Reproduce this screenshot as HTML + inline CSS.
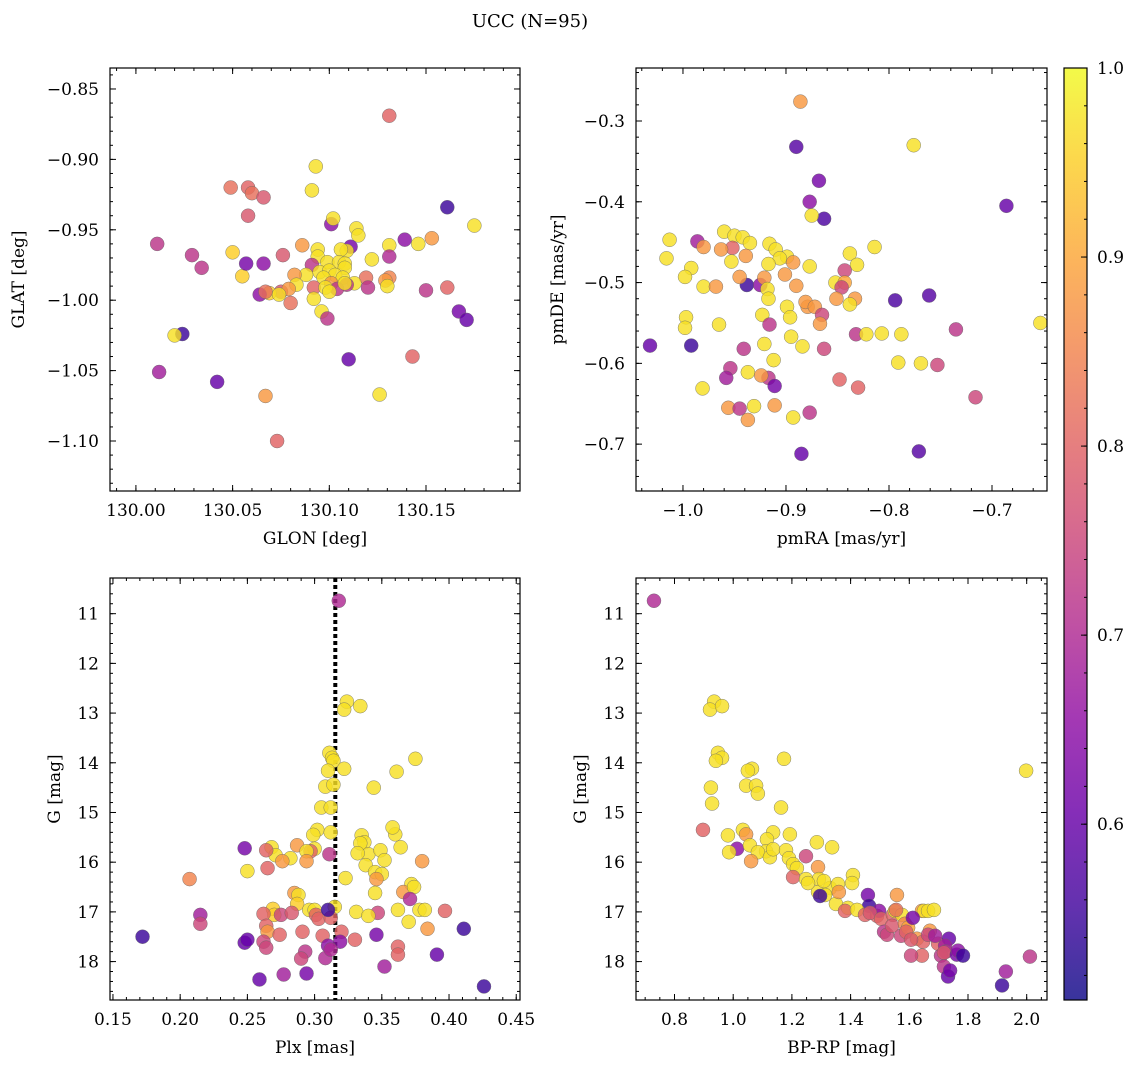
<!DOCTYPE html>
<html><head><meta charset="utf-8">
<style>
html,body{margin:0;padding:0;background:#fff;}
svg{display:block;font-family:"DejaVu Serif","Liberation Serif",serif;}
</style></head>
<body>
<svg id="fig" width="1136" height="1067" viewBox="0 0 1136 1067" xmlns="http://www.w3.org/2000/svg">
<text x="530" y="27" font-size="18" text-anchor="middle">UCC (N=95)</text>
</svg>
<script>
// ---------- DATA ----------
const glonVals=[130.131,130.058,130.049,130.060,130.066,130.093,130.091,130.161,130.011,130.050,130.055,130.058,130.101,130.102,130.114,130.115,130.175,130.153,130.146,130.139,130.086,130.094,130.111,130.109,130.106,130.131,130.122,130.066,130.076,130.094,130.099,130.105,130.057,130.029,130.034,130.108,130.108,130.091,130.095,130.131,130.088,130.100,130.103,130.107,130.097,130.082,130.131,130.129,130.119,130.101,130.113,130.130,130.109,130.104,130.092,130.098,130.100,130.083,130.075,130.079,130.120,130.161,130.150,130.069,130.074,130.064,130.092,130.067,130.080,130.096,130.099,130.167,130.171,130.024,130.020,130.110,130.126,130.143,130.012,130.042,130.067,130.073,130.108];
const glatVals=[-0.869,-0.920,-0.920,-0.924,-0.927,-0.905,-0.922,-0.934,-0.960,-0.966,-0.983,-0.940,-0.946,-0.942,-0.949,-0.954,-0.947,-0.956,-0.960,-0.957,-0.961,-0.964,-0.962,-0.965,-0.964,-0.961,-0.971,-0.974,-0.968,-0.969,-0.973,-0.973,-0.974,-0.968,-0.977,-0.974,-0.977,-0.975,-0.980,-0.969,-0.982,-0.979,-0.982,-0.984,-0.984,-0.982,-0.984,-0.986,-0.984,-0.988,-0.988,-0.990,-0.989,-0.992,-0.991,-0.991,-0.994,-0.989,-0.994,-0.992,-0.991,-0.991,-0.993,-0.995,-0.996,-0.996,-0.999,-0.994,-1.002,-1.008,-1.013,-1.008,-1.014,-1.024,-1.025,-1.042,-1.067,-1.040,-1.051,-1.058,-1.068,-1.100,-0.988];
const probP1=[0.8,0.8,0.82,0.82,0.78,0.97,0.97,0.55,0.72,0.95,0.95,0.78,0.65,0.97,0.97,0.97,0.97,0.88,0.97,0.65,0.88,0.97,0.62,0.97,0.97,0.97,0.97,0.65,0.78,0.97,0.97,0.97,0.62,0.72,0.72,0.97,0.97,0.72,0.97,0.7,0.97,0.97,0.97,0.97,0.97,0.88,0.85,0.88,0.82,0.88,0.97,0.97,0.72,0.72,0.8,0.97,0.97,0.97,0.78,0.88,0.72,0.8,0.72,0.95,0.97,0.65,0.97,0.82,0.82,0.97,0.72,0.62,0.6,0.55,0.97,0.6,0.97,0.8,0.68,0.6,0.88,0.8,0.97];

const pmraVals=[-0.886,-0.890,-0.776,-0.868,-0.877,-0.863,-0.875,-0.686,-1.013,-1.016,-0.986,-0.992,-0.960,-0.950,-0.952,-0.963,-0.942,-0.980,-0.935,-0.916,-0.910,-0.899,-0.814,-0.838,-0.877,-0.906,-0.893,-0.917,-0.953,-0.939,-0.831,-0.843,-0.794,-0.761,-0.938,-0.998,-0.980,-0.968,-0.925,-0.921,-0.945,-0.918,-0.901,-0.890,-0.852,-0.843,-0.846,-0.833,-0.838,-0.851,-0.879,-0.899,-0.881,-0.872,-0.865,-0.867,-0.917,-0.896,-0.997,-0.998,-0.965,-0.923,-0.916,-0.992,-1.032,-0.941,-0.921,-0.895,-0.884,-0.832,-0.822,-0.788,-0.807,-0.863,-0.917,-0.791,-0.735,-0.753,-0.769,-0.954,-0.937,-0.924,-0.958,-0.911,-0.981,-0.848,-0.830,-0.912,-0.956,-0.931,-0.945,-0.911,-0.937,-0.877,-0.893,-0.716,-0.771,-0.885,-0.653];
const pmdeVals=[-0.276,-0.332,-0.330,-0.374,-0.400,-0.421,-0.417,-0.405,-0.447,-0.470,-0.449,-0.482,-0.437,-0.442,-0.457,-0.459,-0.444,-0.456,-0.451,-0.452,-0.459,-0.468,-0.456,-0.464,-0.480,-0.470,-0.475,-0.477,-0.474,-0.467,-0.478,-0.485,-0.522,-0.516,-0.503,-0.493,-0.505,-0.505,-0.503,-0.494,-0.493,-0.508,-0.490,-0.504,-0.500,-0.500,-0.506,-0.520,-0.527,-0.520,-0.530,-0.530,-0.524,-0.530,-0.540,-0.551,-0.520,-0.543,-0.543,-0.556,-0.552,-0.540,-0.552,-0.578,-0.578,-0.582,-0.576,-0.567,-0.579,-0.564,-0.564,-0.564,-0.563,-0.582,-0.618,-0.599,-0.558,-0.602,-0.600,-0.606,-0.611,-0.615,-0.618,-0.628,-0.631,-0.620,-0.630,-0.596,-0.655,-0.653,-0.656,-0.652,-0.670,-0.661,-0.667,-0.642,-0.709,-0.712,-0.550];
const probP2=[0.88,0.58,0.97,0.62,0.65,0.57,0.97,0.6,0.97,0.97,0.68,0.97,0.97,0.97,0.8,0.88,0.97,0.88,0.97,0.97,0.97,0.97,0.97,0.97,0.97,0.97,0.88,0.97,0.97,0.88,0.97,0.75,0.57,0.58,0.55,0.97,0.97,0.88,0.65,0.88,0.88,0.97,0.88,0.88,0.97,0.9,0.75,0.88,0.97,0.88,0.88,0.97,0.88,0.88,0.75,0.88,0.97,0.97,0.97,0.97,0.97,0.97,0.72,0.55,0.6,0.72,0.97,0.97,0.97,0.72,0.97,0.97,0.97,0.75,0.72,0.97,0.72,0.75,0.97,0.72,0.97,0.88,0.68,0.62,0.97,0.8,0.8,0.97,0.88,0.97,0.72,0.88,0.88,0.72,0.97,0.75,0.58,0.6,0.97];

const plxVals=[0.318,0.324,0.322,0.334,0.311,0.313,0.314,0.322,0.310,0.308,0.314,0.375,0.361,0.344,0.305,0.312,0.302,0.299,0.300,0.312,0.335,0.337,0.340,0.360,0.358,0.334,0.364,0.297,0.287,0.294,0.268,0.271,0.248,0.264,0.282,0.311,0.332,0.338,0.349,0.352,0.380,0.345,0.350,0.323,0.346,0.250,0.265,0.276,0.294,0.207,0.372,0.345,0.366,0.374,0.285,0.288,0.371,0.287,0.315,0.378,0.269,0.270,0.296,0.300,0.362,0.382,0.397,0.301,0.275,0.262,0.283,0.303,0.312,0.310,0.331,0.347,0.340,0.370,0.215,0.215,0.384,0.264,0.265,0.320,0.291,0.274,0.306,0.262,0.319,0.310,0.346,0.411,0.248,0.264,0.330,0.293,0.362,0.290,0.172,0.250,0.308,0.312,0.391,0.362,0.352,0.294,0.277,0.259,0.426];
const gP3=[10.74,12.77,12.93,12.86,13.80,13.90,13.96,14.12,14.16,14.48,14.44,13.92,14.18,14.50,14.90,14.90,15.35,15.45,15.73,15.40,15.46,15.60,15.84,15.44,15.30,15.62,15.70,15.78,15.66,15.78,15.70,15.86,15.72,15.76,15.92,15.84,15.82,16.06,15.76,15.96,15.98,16.20,16.24,16.32,16.34,16.18,16.12,15.98,15.98,16.34,16.44,16.62,16.60,16.50,16.62,16.66,16.74,16.84,16.90,16.96,16.94,17.06,16.96,16.96,16.96,16.96,16.98,17.06,17.06,17.04,17.02,17.14,17.12,16.96,17.00,17.02,17.08,17.20,17.06,17.24,17.34,17.28,17.40,17.40,17.40,17.46,17.48,17.60,17.60,17.68,17.46,17.34,17.62,17.72,17.56,17.80,17.70,17.94,17.50,17.56,17.93,17.76,17.86,17.86,18.10,18.24,18.26,18.36,18.50];
const probP3=[0.7,0.97,0.97,0.97,0.97,0.97,0.97,0.97,0.97,0.97,0.97,0.97,0.97,0.97,0.97,0.97,0.97,0.97,0.97,0.97,0.97,0.97,0.97,0.97,0.97,0.97,0.97,0.8,0.88,0.97,0.97,0.97,0.62,0.8,0.97,0.72,0.97,0.97,0.97,0.97,0.88,0.97,0.97,0.97,0.88,0.97,0.8,0.88,0.88,0.85,0.97,0.97,0.88,0.97,0.88,0.97,0.7,0.95,0.97,0.97,0.95,0.95,0.97,0.97,0.97,0.97,0.8,0.8,0.75,0.8,0.78,0.8,0.8,0.55,0.97,0.75,0.97,0.97,0.68,0.75,0.88,0.8,0.88,0.8,0.8,0.8,0.8,0.75,0.65,0.65,0.62,0.55,0.6,0.75,0.8,0.72,0.8,0.75,0.55,0.6,0.7,0.7,0.6,0.8,0.68,0.62,0.68,0.6,0.55];

const bprpVals=[0.730,0.935,0.921,0.962,0.948,0.962,0.941,1.064,1.050,1.044,1.078,1.084,1.173,0.924,0.928,1.163,1.033,0.897,1.013,1.044,0.982,1.057,1.136,1.115,1.112,1.084,0.986,1.125,1.193,1.136,1.061,1.285,1.337,1.180,1.190,1.204,1.217,1.204,1.289,1.292,1.289,1.330,1.309,1.408,1.357,1.248,1.248,1.255,1.313,1.405,1.350,1.360,1.296,1.459,1.463,1.391,1.381,1.422,1.449,1.490,1.497,1.466,1.504,1.544,1.551,1.558,1.514,1.524,1.572,1.541,1.575,1.585,1.596,1.589,1.643,1.650,1.664,1.684,1.626,1.670,1.698,1.647,1.606,1.664,1.688,1.735,1.722,1.725,1.643,1.606,1.708,1.718,1.762,1.766,1.718,1.732,1.739,1.783,1.929,1.916,2.011,1.998,1.612,1.555];
const gP4=[10.74,12.77,12.93,12.86,13.80,13.90,13.96,14.12,14.16,14.46,14.46,14.62,13.92,14.50,14.82,14.90,15.35,15.35,15.73,15.44,15.46,15.66,15.40,15.54,15.78,15.80,15.80,15.90,15.44,15.74,15.98,15.60,15.70,15.76,15.92,16.04,16.12,16.30,16.10,16.34,16.60,16.52,16.38,16.26,16.44,15.88,16.34,16.42,16.66,16.42,16.84,16.60,16.68,16.66,16.88,16.92,16.98,16.96,17.06,17.08,16.98,17.02,17.14,17.06,16.98,16.66,17.40,17.46,17.48,17.28,17.06,17.24,17.32,17.40,16.98,16.98,16.98,16.96,17.54,17.38,17.64,17.60,17.56,17.46,17.48,17.54,17.68,17.80,17.88,17.88,17.88,17.82,17.86,17.78,18.10,18.30,18.18,17.88,18.20,18.48,17.90,14.16,17.12,16.96];
const probP4=[0.7,0.97,0.97,0.97,0.97,0.97,0.97,0.97,0.97,0.97,0.97,0.97,0.97,0.97,0.97,0.97,0.97,0.8,0.65,0.88,0.97,0.97,0.97,0.97,0.97,0.97,0.97,0.97,0.97,0.97,0.88,0.97,0.97,0.97,0.97,0.97,0.97,0.8,0.88,0.97,0.97,0.97,0.97,0.97,0.97,0.75,0.97,0.97,0.97,0.97,0.97,0.88,0.55,0.62,0.55,0.97,0.8,0.97,0.8,0.8,0.65,0.78,0.8,0.8,0.97,0.88,0.72,0.75,0.75,0.78,0.97,0.85,0.9,0.8,0.88,0.97,0.97,0.97,0.88,0.88,0.8,0.8,0.78,0.75,0.68,0.6,0.68,0.7,0.8,0.75,0.72,0.78,0.62,0.65,0.72,0.6,0.62,0.55,0.68,0.55,0.72,0.97,0.62,0.82];

const plxMean=[0.3154];
const cbTicks=[0.6,0.7,0.8,0.9,1.0];
const cbMin=0.507, cbMax=1.0;

// ---------- HELPERS ----------
const NS="http://www.w3.org/2000/svg";
const svg=document.getElementById('fig');
function mk(tag,attrs,parent){const e=document.createElementNS(NS,tag);for(const k in attrs)e.setAttribute(k,attrs[k]);(parent||svg).appendChild(e);return e;}
const plasma=[[13,8,135],[65,4,157],[106,0,168],[143,13,164],[177,42,144],[204,71,120],[225,100,98],[242,132,75],[252,166,54],[252,206,37],[240,249,33]];
function cmap(v){let t=(v-cbMin)/(cbMax-cbMin);t=Math.max(0,Math.min(1,t))*10;const i=Math.min(9,Math.floor(t));const f=t-i;const a=plasma[i],b=plasma[i+1];return 'rgb('+[0,1,2].map(k=>Math.round(a[k]+(b[k]-a[k])*f)).join(',')+')';}
function fmtMinus(s){return s.replace('-','\u2212');}

function panel(opt){
  const g=mk('g',{});
  
  
  const L=opt.L,R=opt.R,T=opt.T,B=opt.B;
  const sx=v=>L+(v-opt.x0)/(opt.x1-opt.x0)*(R-L);
  const sy=opt.yinv? (v=>T+(v-opt.y0)/(opt.y1-opt.y0)*(B-T)) : (v=>B-(v-opt.y0)/(opt.y1-opt.y0)*(B-T));
  const clip='clip-'+opt.name;
  const cp=mk('clipPath',{id:clip},g);mk('rect',{x:L,y:T,width:R-L,height:B-T},cp);
  const pts=mk('g',{'clip-path':'url(#'+clip+')'},g);
  
  
  if(opt.vline!==undefined){
    const ln=mk('line',{x1:sx(opt.vline),x2:sx(opt.vline),y1:T,y2:B,stroke:'#000','stroke-width':4,'stroke-dasharray':'4,3'},pts);
    
    
  }
  for(let i=0;i<opt.xs.length;i++){
    const c=mk('circle',{cx:sx(opt.xs[i]),cy:sy(opt.ys[i]),r:7,fill:cmap(opt.cs[i]),'fill-opacity':0.82,stroke:'#666','stroke-width':0.5,'stroke-opacity':0.8},pts);
    
    
  }
  mk('rect',{x:L,y:T,width:R-L,height:B-T,fill:'none',stroke:'#000','stroke-width':1.2},g);
  const tk=mk('g',{stroke:'#000','stroke-width':1},g);
  function ticksX(step,len){const s=Math.ceil(Math.min(opt.x0,opt.x1)/step-1e-6);for(let k=s;k*step<=Math.max(opt.x0,opt.x1)+1e-9;k++){const x=sx(k*step);mk('line',{x1:x,x2:x,y1:B,y2:B-len},tk);mk('line',{x1:x,x2:x,y1:T,y2:T+len},tk);}}
  function ticksY(step,len){const lo=Math.min(opt.y0,opt.y1),hi=Math.max(opt.y0,opt.y1);const s=Math.ceil(lo/step-1e-6);for(let k=s;k*step<=hi+1e-9;k++){const y=sy(k*step);mk('line',{x1:L,x2:L+len,y1:y,y2:y},tk);mk('line',{x1:R,x2:R-len,y1:y,y2:y},tk);}}
  ticksX(opt.xminor,3);ticksY(opt.yminor,3);
  ticksX(opt.xmajor,6);ticksY(opt.ymajor,6);
  opt.xt.forEach(v=>{const t=mk('text',{x:sx(v),y:B+25,'font-size':17,'text-anchor':'middle'},g);t.textContent=fmtMinus(v.toFixed(opt.xd));});
  opt.yt.forEach(v=>{const t=mk('text',{x:L-11,y:sy(v)+6,'font-size':17,'text-anchor':'end'},g);t.textContent=fmtMinus(v.toFixed(opt.yd));});
  const xl=mk('text',{x:(L+R)/2,y:B+53,'font-size':17,'text-anchor':'middle'},g);xl.textContent=opt.xlabel;
  
  const yl=mk('text',{x:opt.ylx,y:(T+B)/2,'font-size':17,'text-anchor':'middle',transform:'rotate(-90 '+opt.ylx+' '+((T+B)/2)+')'},g);yl.textContent=opt.ylabel;
  
}

panel({name:'glon-glat-panel',L:110,R:520,T:68,B:491,x0:129.9866,x1:130.1986,y0:-1.1355,y1:-0.8351,xs:glonVals,ys:glatVals,cs:probP1,
  xmajor:0.05,xminor:0.01,ymajor:0.05,yminor:0.01,xt:[130.00,130.05,130.10,130.15],xd:2,yt:[-0.85,-0.90,-0.95,-1.00,-1.05,-1.10],yd:2,xlabel:'GLON [deg]',ylabel:'GLAT [deg]',ylx:24});
panel({name:'pm-panel',L:636,R:1047,T:68,B:491,x0:-1.0456,x1:-0.6466,y0:-0.758,y1:-0.2344,xs:pmraVals,ys:pmdeVals,cs:probP2,
  xmajor:0.1,xminor:0.02,ymajor:0.1,yminor:0.02,xt:[-1.0,-0.9,-0.8,-0.7],xd:1,yt:[-0.3,-0.4,-0.5,-0.6,-0.7],yd:1,xlabel:'pmRA [mas/yr]',ylabel:'pmDE [mas/yr]',ylx:563});
panel({name:'plx-g-panel',L:110,R:520,T:578,B:1000,x0:0.1478,x1:0.4528,y0:10.282,y1:18.773,yinv:true,xs:plxVals,ys:gP3,cs:probP3,vline:plxMean[0],
  xmajor:0.05,xminor:0.01,ymajor:1,yminor:0.2,xt:[0.15,0.20,0.25,0.30,0.35,0.40,0.45],xd:2,yt:[11,12,13,14,15,16,17,18],yd:0,xlabel:'Plx [mas]',ylabel:'G [mag]',ylx:60});
panel({name:'cmd-panel',L:636,R:1047,T:578,B:1000,x0:0.6688,x1:2.0692,y0:10.282,y1:18.773,yinv:true,xs:bprpVals,ys:gP4,cs:probP4,
  xmajor:0.2,xminor:0.05,ymajor:1,yminor:0.2,xt:[0.8,1.0,1.2,1.4,1.6,1.8,2.0],xd:1,yt:[11,12,13,14,15,16,17,18],yd:0,xlabel:'BP-RP [mag]',ylabel:'G [mag]',ylx:586});

// colorbar
(function(){
  const L=1064,R=1087,T=68,B=1000;
  const g=mk('g',{});
  
  
  const defs=mk('defs',{},g);
  const grad=mk('linearGradient',{id:'cbgrad',x1:0,y1:1,x2:0,y2:0},defs);
  plasma.forEach((c,i)=>mk('stop',{offset:(i/10),'stop-color':'rgb('+c.join(',')+')'},grad));
  mk('rect',{x:L,y:T,width:R-L,height:B-T,fill:'url(#cbgrad)','fill-opacity':0.82},g);
  mk('rect',{x:L,y:T,width:R-L,height:B-T,fill:'none',stroke:'#000','stroke-width':1.2},g);
  const sy=v=>B-(v-cbMin)/(cbMax-cbMin)*(B-T);
  for(let k=26;k<=50;k++){const v=k*0.02;if(v<cbMin)continue;const y=sy(v);mk('line',{x1:R,x2:R-3,y1:y,y2:y,stroke:'#000'},g);}
  cbTicks.forEach(v=>{const y=sy(v);mk('line',{x1:R,x2:R-6,y1:y,y2:y,stroke:'#000'},g);
    const t=mk('text',{x:R+10,y:y+6,'font-size':17},g);t.textContent=v.toFixed(1);
    
    });
})();
</script>
</body></html>
